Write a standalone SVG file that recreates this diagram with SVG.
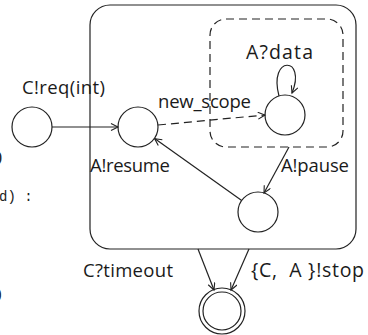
<svg xmlns="http://www.w3.org/2000/svg" width="368" height="335" viewBox="0 0 368 335">
<style>
.lbl{font-family:"Open Sans","Noto Sans",sans-serif;font-size:18.5px;fill:#1a1a1a;white-space:pre}
.big{font-size:19.5px}
.st{fill:#fff;stroke:#222;stroke-width:1.2}
.ln{fill:none;stroke:#222;stroke-width:1.2}
.dash{stroke-dasharray:8,5}
.frag{font-family:"Liberation Mono",monospace;font-size:14px;fill:#222}
.fragp{font-family:"Liberation Serif",serif;font-size:17px;fill:#222}
</style>
<defs>
<marker id="arr" markerWidth="10" markerHeight="10" refX="8" refY="4" orient="auto" markerUnits="userSpaceOnUse">
<path d="M1,0.5 L8,4 L1,7.5" fill="none" stroke="#222" stroke-width="1.1"/>
</marker>
</defs>
<g id="fragments">
<text class="fragp" x="-3.5" y="162">)</text>
<text class="frag" x="-1" y="201">d) :</text>
<text class="fragp" x="-4" y="299">)</text>
</g>
<g id="composite">
<rect class="ln" x="90" y="5" width="266" height="244" rx="20"/>
</g>
<g id="scope">
<rect class="ln dash" x="210" y="19" width="133" height="128" rx="16"/>
</g>
<g id="s0"><circle class="st" cx="32" cy="127" r="20"/></g>
<g id="s1"><circle class="st" cx="138" cy="127" r="20"/></g>
<g id="s2"><circle class="st" cx="285" cy="115" r="20"/></g>
<g id="s3"><circle class="st" cx="258" cy="212" r="20"/></g>
<g id="final">
<circle class="st" cx="222" cy="311" r="23"/>
<circle class="ln" cx="222" cy="311" r="19"/>
</g>
<g id="connectors">
<line class="ln" x1="52" y1="127" x2="118" y2="127" marker-end="url(#arr)"/>
<line class="ln dash" x1="158" y1="125" x2="265" y2="115" marker-end="url(#arr)"/>
<path class="ln" d="M279,96 C268,55 307,56 292,93" marker-end="url(#arr)"/>
<line class="ln" x1="289" y1="147" x2="264" y2="193" marker-end="url(#arr)"/>
<line class="ln" x1="241.7" y1="200.4" x2="154.6" y2="138.6" marker-end="url(#arr)"/>
<line class="ln" x1="198" y1="249" x2="214" y2="290" marker-end="url(#arr)"/>
<line class="ln" x1="249" y1="249" x2="231" y2="290" marker-end="url(#arr)"/>
</g>
<g id="labels">
<text class="lbl" x="22" y="94" textLength="83" lengthAdjust="spacing">C!req(int)</text>
<text class="lbl" x="158" y="108" textLength="93" lengthAdjust="spacing">new_scope</text>
<text class="lbl big" x="246" y="59" textLength="67" lengthAdjust="spacing">A?data</text>
<text class="lbl" x="90" y="172" textLength="80" lengthAdjust="spacing">A!resume</text>
<text class="lbl" x="281" y="172" textLength="68" lengthAdjust="spacing">A!pause</text>
<text class="lbl" x="83" y="277" textLength="90" lengthAdjust="spacing">C?timeout</text>
<text class="lbl big" x="251" y="277" textLength="113" lengthAdjust="spacing">{C,  A }!stop</text>
</g>
</svg>
